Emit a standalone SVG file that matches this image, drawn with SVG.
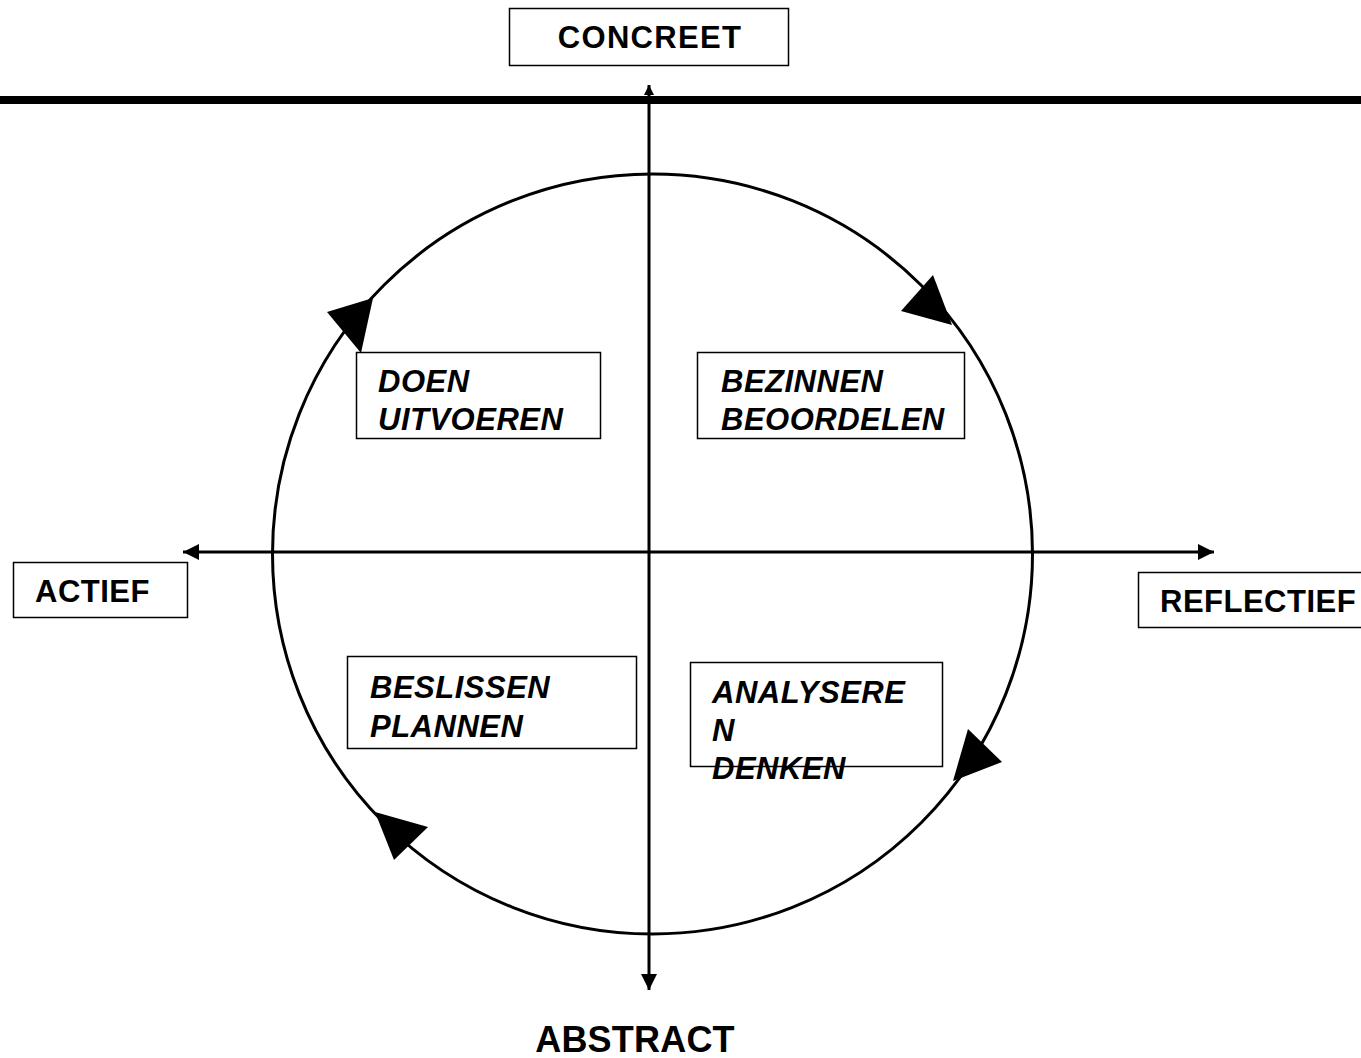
<svg xmlns="http://www.w3.org/2000/svg" width="1361" height="1058" viewBox="0 0 1361 1058">
<style>
.box{fill:#fff;stroke:#000;stroke-width:1.5}
.lbl{font-family:"Liberation Sans",Arial,sans-serif;font-weight:bold;font-size:31px;letter-spacing:0.5px;fill:#000}
.q{font-family:"Liberation Sans",Arial,sans-serif;font-weight:bold;font-style:italic;font-size:31px;letter-spacing:0.5px;fill:#000}
.axis{stroke:#000;stroke-width:3;fill:none}
.head{fill:#000;stroke:none}
</style>
<defs>
<marker id="ah" markerUnits="userSpaceOnUse" markerWidth="18" markerHeight="16" refX="16" refY="8" orient="auto">
<path d="M0,0 L16,8 L0,16 z" fill="#000"/>
</marker>
<marker id="ahs" markerUnits="userSpaceOnUse" markerWidth="12" markerHeight="10" refX="10" refY="5" orient="auto">
<path d="M0,0 L10,5 L0,10 z" fill="#000"/>
</marker>
</defs>
<rect width="1361" height="1058" fill="#fff"/>
<g id="connectors">
<line x1="0" y1="100" x2="1361" y2="100" stroke="#000" stroke-width="8"/>
<circle cx="652.5" cy="554" r="380" class="axis"/>
<line x1="649" y1="552" x2="649" y2="85" class="axis" marker-end="url(#ahs)"/>
<line x1="649" y1="552" x2="649" y2="990" class="axis" marker-end="url(#ah)"/>
<line x1="649" y1="552" x2="183" y2="552" class="axis" marker-end="url(#ah)"/>
<line x1="649" y1="552" x2="1214" y2="552" class="axis" marker-end="url(#ah)"/>
<polygon class="head" points="952,325 933,275 901,311"/>
<polygon class="head" points="373,298 327,312 361,353"/>
<polygon class="head" points="953,781 968,729 1002,762"/>
<polygon class="head" points="375,812 428,827 394,860"/>
</g>
<g id="concreet">
<rect class="box" x="509.5" y="8.5" width="279" height="57"/>
<text class="lbl" x="650" y="47.5" text-anchor="middle" style="letter-spacing:1.3px">CONCREET</text>
</g>
<g id="actief">
<rect class="box" x="13.5" y="562.5" width="174" height="55"/>
<text class="lbl" x="35" y="602">ACTIEF</text>
</g>
<g id="reflectief">
<rect class="box" x="1138.5" y="572.5" width="230" height="55"/>
<text class="lbl" x="1160" y="612">REFLECTIEF</text>
</g>
<g id="abstract">
<text class="lbl" x="635" y="1052" text-anchor="middle" style="font-size:36px;letter-spacing:0.2px">ABSTRACT</text>
</g>
<g id="doen">
<rect class="box" x="356.5" y="352.5" width="244" height="86"/>
<text class="q" x="378" y="392">DOEN</text>
<text class="q" x="378" y="430">UITVOEREN</text>
</g>
<g id="bezinnen">
<rect class="box" x="697.5" y="352.5" width="267" height="86"/>
<text class="q" x="721" y="392">BEZINNEN</text>
<text class="q" x="721" y="430">BEOORDELEN</text>
</g>
<g id="beslissen">
<rect class="box" x="347.5" y="656.5" width="289" height="92"/>
<text class="q" x="370" y="698">BESLISSEN</text>
<text class="q" x="370" y="737">PLANNEN</text>
</g>
<g id="analyseren">
<rect class="box" x="690.5" y="662.5" width="252" height="104"/>
<text class="q" x="712" y="703">ANALYSERE</text>
<text class="q" x="712" y="741">N</text>
<text class="q" x="712" y="779">DENKEN</text>
</g>
</svg>
